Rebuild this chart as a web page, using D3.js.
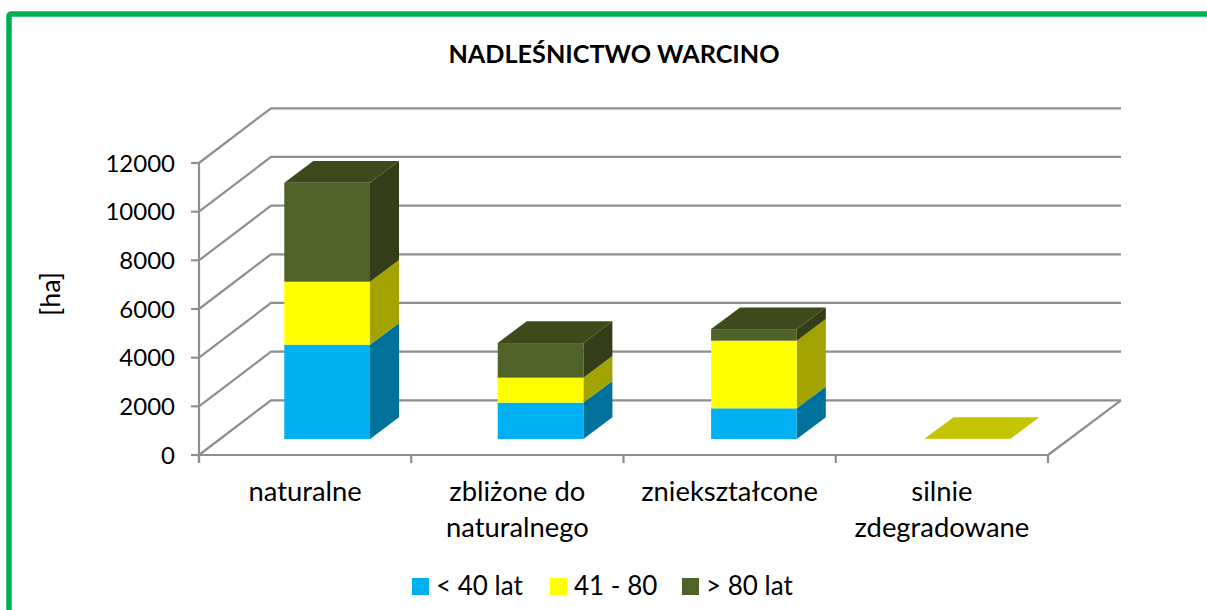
<!DOCTYPE html>
<html><head><meta charset="utf-8">
<script src="https://cdn.jsdelivr.net/npm/d3@7"></script>
<style>html,body{margin:0;padding:0;background:#fff;overflow:hidden}svg{display:block}text{font-family:Lato,Carlito,"Open Sans",sans-serif;fill:#000}</style>
</head><body><svg id="c" width="1207" height="610"></svg>
<script>
const categories=[["naturalne"],["zbliżone do","naturalnego"],["zniekształcone"],["silnie","zdegradowane"]];
const seriesNames=["< 40 lat","41 - 80","> 80 lat"];
const young=[3877,1495,1261,0];
const middle=[2587,1027,2780,6];
const old=[4066,1421,476,0];
const yTicks=[0,2000,4000,6000,8000,10000,12000];
const title="NADLEŚNICTWO WARCINO";
const yTitle="[ha]";
const faceColors=["#00B0F0","#FFFF00","#4F6228"];
const sideColors=["#00719B","#A3A300","#333D17"];
const topColors=["#0088BB","#C4C400","#3E491C"];
const gridColor="#8E8E8E";

const svg=d3.select("#c");
const x=d3.scaleBand().domain(d3.range(categories.length)).range([199,1048]);
const xBars=d3.scaleBand().domain(d3.range(categories.length)).range([220.45,1074.05]);
const y=d3.scaleLinear().domain([0,12000]).range([455,163]);
const wall=[72,-54.7], barLift=-16, barDepth=[29,-21.7], barW=85.7;
const series=[young,middle,old];

svg.append("rect").attr("x",9).attr("y",14).attr("width",1400).attr("height",800).attr("rx",2)
  .attr("fill","#fff").attr("stroke","#00B050").attr("stroke-width",5.5);

const g=svg.append("g").attr("fill","none").attr("stroke",gridColor).attr("stroke-width",2.2);
yTicks.forEach(t=>{
  const py=y(t);
  g.append("path").attr("d",d3.line()([[199,py],[199+wall[0],py+wall[1]],[1121,py+wall[1]]]));
  g.append("line").attr("x1",191).attr("x2",199).attr("y1",py).attr("y2",py);
});
g.append("line").attr("x1",199).attr("x2",199).attr("y1",y(12000)).attr("y2",463);
g.append("line").attr("x1",199).attr("x2",1048).attr("y1",455).attr("y2",455);
g.append("line").attr("x1",1048).attr("y1",455).attr("x2",1048+73).attr("y2",455+wall[1]);
d3.range(categories.length+1).forEach(i=>{
  const px=i<categories.length?x(i):x.range()[1];
  g.append("line").attr("x1",px).attr("x2",px).attr("y1",455).attr("y2",463);
});

const poly=(pts,fill)=>svg.append("polygon").attr("points",pts.map(p=>p.join(",")).join(" ")).attr("fill",fill);
categories.forEach((c,i)=>{
  const x0=xBars(i)+xBars.bandwidth()/2-barW/2, x1=x0+barW;
  let cum=0,last=0,topY=0;
  series.forEach((s,k)=>{
    const v=s[i];
    if(v<=0) return;
    const yb=y(cum)+barLift, yt=y(cum+v)+barLift;
    poly([[x1,yb],[x1+barDepth[0],yb+barDepth[1]],[x1+barDepth[0],yt+barDepth[1]],[x1,yt]],sideColors[k]);
    svg.append("rect").attr("x",x0).attr("y",yt).attr("width",barW).attr("height",yb-yt).attr("fill",faceColors[k]);
    cum+=v; last=k; topY=yt;
  });
  poly([[x0,topY],[x1,topY],[x1+barDepth[0],topY+barDepth[1]],[x0+barDepth[0],topY+barDepth[1]]],topColors[last]);
});

yTicks.forEach(t=>svg.append("text").attr("x",175).attr("y",y(t)+8.5).attr("text-anchor","end").attr("font-size",24).text(t));
svg.append("text").attr("transform","translate(60,294) rotate(-90)").attr("text-anchor","middle").attr("font-size",27).text(yTitle);
svg.append("text").attr("x",614).attr("y",63).attr("text-anchor","middle").attr("font-size",25.2).attr("font-weight",700).text(title);
categories.forEach((c,i)=>{
  const cx=x(i)+x.bandwidth()/2;
  c.forEach((l,j)=>svg.append("text").attr("x",cx).attr("y",501+j*36).attr("text-anchor","middle").attr("font-size",27.4).text(l));
});
const legendX=[412,550,682];
seriesNames.forEach((n,k)=>{
  svg.append("rect").attr("x",legendX[k]).attr("y",578).attr("width",17).attr("height",17).attr("fill",faceColors[k]);
  svg.append("text").attr("x",legendX[k]+24).attr("y",595).attr("font-size",26).text(n);
});
</script></body></html>
